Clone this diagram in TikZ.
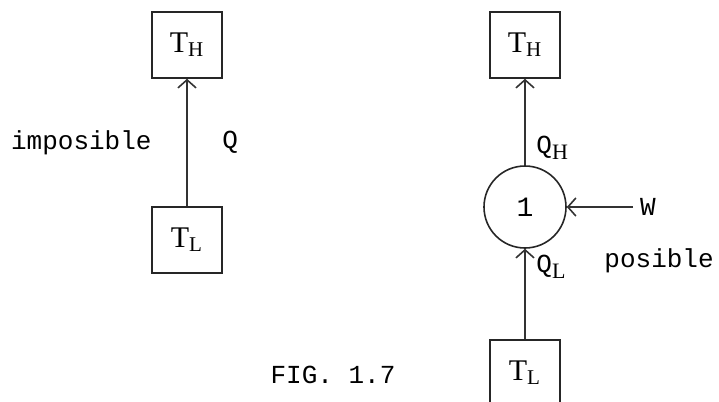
\documentclass[tikz,border=0pt]{standalone}
\usepackage{fontspec}
\setmainfont{Liberation Serif}
\setmonofont{Liberation Mono}
\usetikzlibrary{arrows.meta,positioning}
\tikzset{
  resbox/.style={
    rectangle, draw=black!85, thick,
    minimum width=35pt, minimum height=33pt, inner sep=0pt,
    font=\fontsize{15}{17}\selectfont
  },
  heatarrow/.style={-{Straight Barb[length=4pt,width=9pt]}, thick, draw=black!80},
  lbl/.style={font=\ttfamily\fontsize{13}{15}\selectfont}
}
\newcommand{\qsub}[1]{Q\textsubscript{\rmfamily\fontsize{11}{13}\selectfont #1}}
\begin{document}
\begin{tikzpicture}[x=0.5pt, y=-0.5pt,
  engine/.style={circle, draw=black!85, thick, minimum size=41pt, inner sep=0pt, font=\ttfamily\fontsize{14}{16}\selectfont}
]
\useasboundingbox (0,0) rectangle (719,402);

% Left: imposible
\node[resbox] (thl) at (187,45) {T\textsubscript{H}};
\node[resbox] (tll) at (187,240) {T\textsubscript{L}};

% Right: posible
\node[resbox] (thr) at (525,45) {T\textsubscript{H}};
\node[engine] (eng) at (525,207) {1};
\node[resbox] (tlr) at (525,373) {T\textsubscript{L}};
\node[lbl] (wk) at (648,207) {W};

% Caption
\node[lbl] (cap) at (333,375) {FIG. 1.7};

% Arrows
\draw[heatarrow] (tll) -- node[lbl, right=14pt]{Q} node[lbl, left=14pt]{imposible} (thl);
\draw[heatarrow] (eng) -- node[lbl, right=2pt, pos=0.2]{\qsub{H}} (thr);
\draw[heatarrow] (tlr) -- node[lbl, right=2pt, pos=0.8]{\qsub{L}}
  node[lbl, right=36pt, pos=0.87]{posible} (eng);
\draw[heatarrow] (wk) -- (eng);
\end{tikzpicture}
\end{document}
